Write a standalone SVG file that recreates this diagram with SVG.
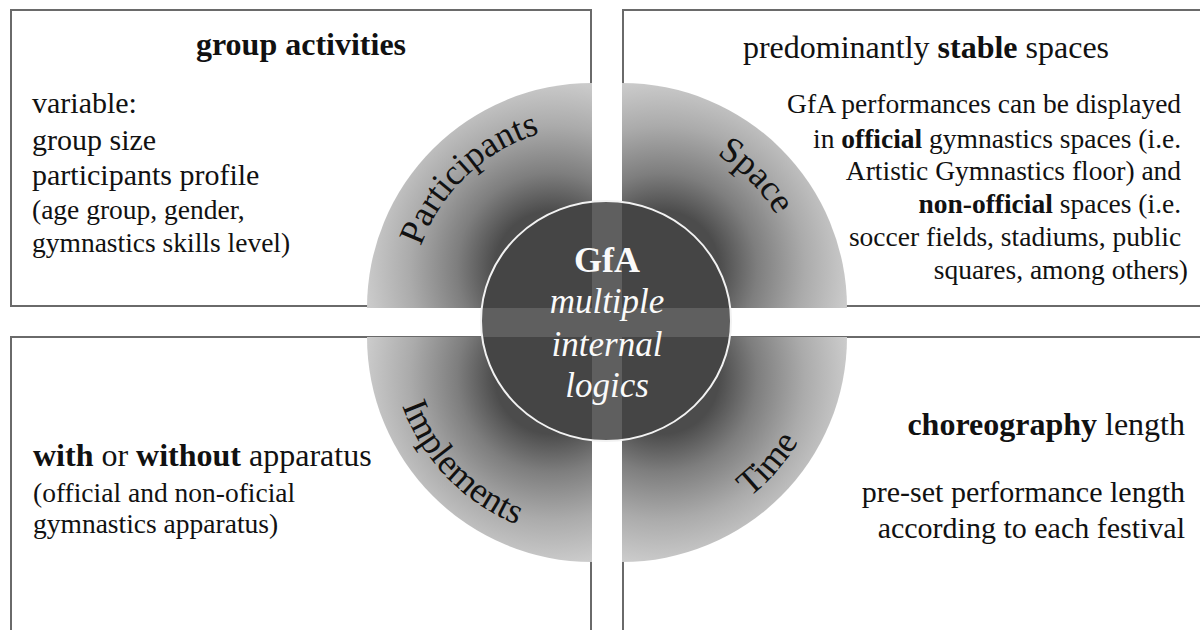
<svg xmlns="http://www.w3.org/2000/svg" width="1200" height="630" viewBox="0 0 1200 630">
<style>
.box{fill:#fff;stroke:#6a6a6a;stroke-width:2}
text{font-family:"Liberation Serif","Times New Roman",serif}
.t{fill:#111}
.h{font-size:32px}
.b{font-size:30px}
.s{font-size:27.5px}
.lbl{font-size:36px;fill:#111}
.ctr{fill:#fafafa;text-anchor:middle}
.bold{font-weight:bold}
</style>
<defs>
<radialGradient id="gTL" gradientUnits="userSpaceOnUse" cx="552" cy="268" r="190"><stop offset="0.3" stop-color="#4c4c4c"/><stop offset="0.5" stop-color="#7e7e7e"/><stop offset="0.75" stop-color="#ababab"/><stop offset="1" stop-color="#cdcdcd"/></radialGradient>
<radialGradient id="gTR" gradientUnits="userSpaceOnUse" cx="662" cy="268" r="190"><stop offset="0.3" stop-color="#4c4c4c"/><stop offset="0.5" stop-color="#7e7e7e"/><stop offset="0.75" stop-color="#ababab"/><stop offset="1" stop-color="#cdcdcd"/></radialGradient>
<radialGradient id="gBL" gradientUnits="userSpaceOnUse" cx="552" cy="377" r="190"><stop offset="0.3" stop-color="#4c4c4c"/><stop offset="0.5" stop-color="#7e7e7e"/><stop offset="0.75" stop-color="#ababab"/><stop offset="1" stop-color="#cdcdcd"/></radialGradient>
<radialGradient id="gBR" gradientUnits="userSpaceOnUse" cx="662" cy="377" r="190"><stop offset="0.3" stop-color="#4c4c4c"/><stop offset="0.5" stop-color="#7e7e7e"/><stop offset="0.75" stop-color="#ababab"/><stop offset="1" stop-color="#cdcdcd"/></radialGradient>
<clipPath id="cc"><ellipse cx="606" cy="321" rx="125" ry="120"/></clipPath>
<path id="pP" d="M410,308 A182,182 0 0 1 592,126"/>
<path id="pS" d="M622,128 A180,180 0 0 1 802,308"/>
<path id="pI" d="M390,337 A202,202 0 0 0 592,539"/>
<path id="pT" d="M622,542 A205,205 0 0 0 827,337"/>
</defs>

<g id="box-participants" font-family="Liberation Serif, Times New Roman, serif">
<rect class="box" x="11" y="10" width="580" height="296"/>
<text class="t h bold" x="301" y="55" text-anchor="middle">group activities</text>
<text class="t b" x="32" y="113">variable:</text>
<text class="t b" x="32" y="150">group size</text>
<text class="t b" x="32" y="185">participants profile</text>
<text class="t s" x="32" y="219">(age group, gender,</text>
<text class="t s" x="32" y="252">gymnastics skills level)</text>
</g>

<g id="box-space" font-family="Liberation Serif, Times New Roman, serif">
<rect class="box" x="623" y="10" width="600" height="296"/>
<text class="t h" x="926" y="58" text-anchor="middle">predominantly <tspan class="bold">stable</tspan> spaces</text>
<text class="t s" text-anchor="end">
<tspan x="1188" y="113">GfA performances can be displayed</tspan>
<tspan x="1188" y="148">in <tspan class="bold">official</tspan> gymnastics spaces (i.e.</tspan>
<tspan x="1188" y="180">Artistic Gymnastics floor) and</tspan>
<tspan x="1188" y="213"><tspan class="bold">non-official</tspan> spaces (i.e.</tspan>
<tspan x="1188" y="246">soccer fields, stadiums, public</tspan>
<tspan x="1188" y="279">squares, among others)</tspan>
</text>
</g>

<g id="box-implements" font-family="Liberation Serif, Times New Roman, serif">
<rect class="box" x="11" y="337" width="580" height="320"/>
<text class="t h" x="33" y="466"><tspan class="bold">with</tspan> or <tspan class="bold">without</tspan> apparatus</text>
<text class="t s" x="33" y="502">(official and non-oficial</text>
<text class="t s" x="33" y="533">gymnastics apparatus)</text>
</g>

<g id="box-time" font-family="Liberation Serif, Times New Roman, serif">
<rect class="box" x="623" y="337" width="600" height="320"/>
<text class="t h" x="1185" y="435" text-anchor="end"><tspan class="bold">choreography</tspan> length</text>
<text class="t b" x="1185" y="502" text-anchor="end">pre-set performance length</text>
<text class="t b" x="1185" y="538" text-anchor="end">according to each festival</text>
</g>

<g id="quadrant-participants">
<path d="M592,308 L367,308 A225,225 0 0 1 592,83 Z" fill="url(#gTL)"/>
<text class="lbl"><textPath href="#pP" startOffset="51.7%" text-anchor="middle">Participants</textPath></text>
</g>
<g id="quadrant-space">
<path d="M622,308 L622,83 A225,225 0 0 1 847,308 Z" fill="url(#gTR)"/>
<text class="lbl"><textPath href="#pS" startOffset="50.4%" text-anchor="middle">Space</textPath></text>
</g>
<g id="quadrant-implements">
<path d="M592,337 L592,562 A225,225 0 0 1 367,337 Z" fill="url(#gBL)"/>
<text class="lbl"><textPath href="#pI" startOffset="48.9%" text-anchor="middle">Implements</textPath></text>
</g>
<g id="quadrant-time">
<path d="M622,337 L847,337 A225,225 0 0 1 622,562 Z" fill="url(#gBR)"/>
<text class="lbl"><textPath href="#pT" startOffset="54.4%" text-anchor="middle">Time</textPath></text>
</g>

<g id="center-gfa">
<ellipse cx="606" cy="321" rx="125" ry="120" fill="#454545"/>
<g clip-path="url(#cc)" fill="#5f5f5f">
<rect x="592" y="190" width="30" height="270"/>
<rect x="470" y="308" width="270" height="29"/>
</g>
<ellipse cx="606" cy="321" rx="125" ry="120" fill="none" stroke="#f2f2f2" stroke-width="2"/>
<text class="ctr bold" x="607" y="272" font-size="36">GfA</text>
<text class="ctr" x="607" y="313" font-size="35" font-style="italic">multiple</text>
<text class="ctr" x="607" y="356" font-size="35" font-style="italic">internal</text>
<text class="ctr" x="607" y="397" font-size="35" font-style="italic">logics</text>
</g>

<g id="connectors"/>
</svg>
